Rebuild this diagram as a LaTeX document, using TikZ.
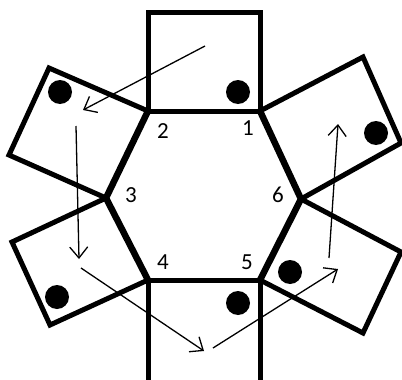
\documentclass[tikz,border=0pt]{standalone}
\usepackage{fontspec}
\setmainfont{Carlito}
\usetikzlibrary{arrows.meta}
\begin{document}
\begin{tikzpicture}[x=1pt,y=-1pt,
  sq/.style={line width=5pt,line join=miter},
  hexedge/.style={line width=6.5pt,line cap=round},
  dot/.style={circle,fill=black,inner sep=0pt,minimum size=24pt},
  lbl/.style={font=\fontsize{23}{26}\selectfont,inner sep=0pt},
  arr/.style={line width=1.3pt,-{Straight Barb[length=11pt,width=18pt,line width=1.3pt]}}]
\useasboundingbox (0,0) rectangle (402,380);
% hexagon vertices
\coordinate (V1) at (260,111);
\coordinate (V2) at (148,111);
\coordinate (V3) at (106,198);
\coordinate (V4) at (148,280);
\coordinate (V5) at (260,280);
\coordinate (V6) at (301,199);
% outer square corners
\coordinate (T1) at (260,12);  \coordinate (T2) at (148,12);
\coordinate (A1) at (49,68);   \coordinate (A2) at (9,155);
\coordinate (B1) at (363,57);  \coordinate (B2) at (401,143);
\coordinate (C1) at (12,242);  \coordinate (C2) at (50,325);
\coordinate (D1) at (401,252); \coordinate (D2) at (363,333);
\coordinate (E1) at (148,383); \coordinate (E2) at (260,383);
% squares
\draw[sq] (V2) -- (V1) -- (T1) -- (T2) -- cycle;
\draw[sq] (V2) -- (V3) -- (A2) -- (A1) -- cycle;
\draw[sq] (V1) -- (V6) -- (B2) -- (B1) -- cycle;
\draw[sq] (V3) -- (V4) -- (C2) -- (C1) -- cycle;
\draw[sq] (V6) -- (V5) -- (D2) -- (D1) -- cycle;
\draw[sq] (V4) -- (V5) -- (E2) -- (E1) -- cycle;
% hexagon slanted edges
\draw[hexedge] (V2) -- (V3) -- (V4);
\draw[hexedge] (V1) -- (V6) -- (V5);
% dots
\node[dot] (d1) at (238,92) {};
\node[dot] (d2) at (60,92) {};
\node[dot] (d3) at (376,133) {};
\node[dot] (d4) at (57,297) {};
\node[dot] (d5) at (290,272) {};
\node[dot] (d6) at (238,303) {};
% labels
\node[lbl] (l1) at (248,128) {1};
\node[lbl] (l2) at (163,131) {2};
\node[lbl] (l3) at (131,195) {3};
\node[lbl] (l4) at (163,262) {4};
\node[lbl] (l5) at (247,262) {5};
\node[lbl] (l6) at (278,195) {6};
% arrows
\coordinate (a1s) at (205,46);  \coordinate (a1e) at (83,110);
\coordinate (a2s) at (76,126);  \coordinate (a2e) at (79,259);
\coordinate (a3s) at (81,268);  \coordinate (a3e) at (204,351);
\coordinate (a4s) at (213,348); \coordinate (a4e) at (338,269);
\coordinate (a5s) at (329,258); \coordinate (a5e) at (338,124);
\draw[arr] (a1s) -- (a1e);
\draw[arr] (a2s) -- (a2e);
\draw[arr] (a3s) -- (a3e);
\draw[arr] (a4s) -- (a4e);
\draw[arr] (a5s) -- (a5e);
\end{tikzpicture}
\end{document}
